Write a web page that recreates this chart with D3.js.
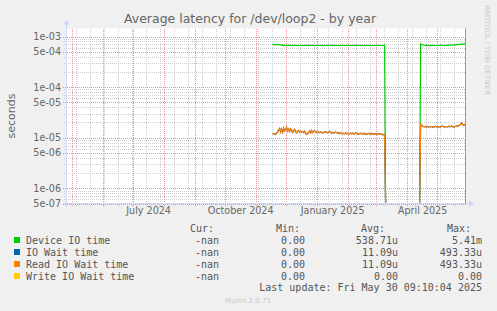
<!DOCTYPE html>
<html>
<head>
<meta charset="utf-8">
<script src="https://cdn.jsdelivr.net/npm/d3@7"></script>
<style>
  body { margin: 0; background: #f0f0f0; }
  svg { display: block; }
</style>
</head>
<body>
<div id="chart"></div>
<script>
// ---- data ----
const title = "Average latency for /dev/loop2 - by year";
const yLabel = "seconds";
const yTicks = [1e-3, 5e-4, 1e-4, 5e-5, 1e-5, 5e-6, 1e-6, 5e-7];
const xLabelDates = ["2024-07-16", "2024-10-16", "2025-01-16", "2025-04-16"];
const xLabelTexts = ["July 2024", "October 2024", "January 2025", "April 2025"];
const endTime = "2025-05-30T09:10:04Z";
const firstDay = "2024-11-18";   // one value per day from here, in microseconds

const deviceUs = [
  690,690,690,690,690,690,690,690,690,
  665,672,660,670,664,668,660,672,666,670,
  662,668,672,664,670,666,660,668,672,664,
  670,666,662,670,668,664,672,660,668,670,
  664,668,672,666,662,670,668,664,670,666,
  660,668,672,664,670,666,662,670,668,664,
  672,660,668,670,664,668,672,666,662,670,
  668,664,670,666,660,668,672,664,670,666,
  662,670,668,664,672,660,668,670,664,668,
  672,666,662,670,668,664,670,666,660,668,
  672,664,670,666,662,670,668,664,672,666,
  668,664,670,672,
  0,0,0,0,0,0,0,0,0,0,0,0,0,0,0,0,0,0,0,0,0,0,0,0,0,0,0,0,0,0,0,0,0,0,0,
  712,700,690,680,672,668,676,670,665,662,
  670,666,674,668,662,670,672,665,660,668,
  675,670,665,672,668,664,670,675,668,672,
  676,670,680,684,690,686,694,690,698,696,
  704,700,708,714,720,735
];

const readUs = [
  12.2,11.8,12.0,11.5,12.4,13.0,
  14.5,15.2,13.0,14.8,12.8,15.5,13.6,14.2,16.0,13.5,
  14.8,13.2,15.0,14.0,12.6,13.8,14.6,13.0,12.4,13.6,
  13.9,12.8,13.5,12.9,13.2,12.6,13.4,12.2,11.6,12.1,
  12.8,13.6,12.4,13.9,12.7,13.2,13.8,13.0,12.6,13.3,
  12.9,12.5,13.1,12.7,12.4,12.8,13.0,12.6,12.9,12.5,
  12.9,13.4,12.7,12.4,12.8,12.3,12.5,12.9,12.6,12.2,
  12.4,12.0,12.6,12.2,11.8,12.3,12.0,12.5,11.9,12.2,
  11.7,12.1,12.4,11.9,12.3,11.8,12.0,12.5,11.9,12.2,
  11.6,12.0,12.3,11.8,12.1,11.7,12.2,11.9,11.6,12.0,
  12.3,11.7,11.9,12.2,11.6,12.0,11.8,12.1,11.5,11.9,
  11.7,12.0,11.6,11.8,11.4,11.6,11.2,
  0,0,0,0,0,0,0,0,0,0,0,0,0,0,0,0,0,0,0,0,0,0,0,0,0,0,0,0,0,0,0,0,0,0,0,
  18.5,17.6,16.8,16.5,16.6,16.4,16.5,16.7,16.4,16.3,
  16.6,16.5,16.2,16.6,16.4,16.8,16.3,16.5,16.6,16.2,
  16.4,16.7,16.9,16.4,16.2,16.6,16.5,16.3,16.8,16.4,
  16.6,17.0,16.5,16.2,16.6,16.8,17.2,16.6,17.3,17.8,
  18.4,19.6,18.2,17.5,18.0,17.2
];

// IO wait time has the same min/avg/max as read IO wait: the same values
const ioWaitUs = readUs;

const writeUs = [
  0,0,0,0,0,0,0,0,0,0,0,0,0,0,0,0,0,0,0,0,0,0,0,0,0,0,0,0,0,0,0,0,0,0,0,0,0,0,0,0,
  0,0,0,0,0,0,0,0,0,0,0,0,0,0,0,0,0,0,0,0,0,0,0,0,0,0,0,0,0,0,0,0,0,0,0,0,0,0,0,0,
  0,0,0,0,0,0,0,0,0,0,0,0,0,0,0,0,0,0,0,0,0,0,0,0,0,0,0,0,0,0,0,0,0,0,0,0,0,0,0,0,
  0,0,0,0,0,0,0,0,0,0,0,0,0,0,0,0,0,0,0,0,0,0,0,0,0,0,0,0,0,0,0,0,0,0,0,0,0,0,0,0,
  0,0,0,0,0,0,0,0,0,0,0,0,0,0,0,0,0,0,0,0,0,0,0,0,0,0,0,0,0,0
];

const seriesNames = ["Device IO time", "IO Wait time", "Read IO Wait time", "Write IO Wait time"];
const seriesColors = ["#00cc00", "#0066b3", "#ff8000", "#ffcc00"];
const curVals = ["-nan", "-nan", "-nan", "-nan"];
const minVals = ["0.00", "0.00", "0.00", "0.00"];
const avgVals = ["538.71u", "11.09u", "11.09u", "0.00"];
const maxVals = ["5.41m", "493.33u", "493.33u", "0.00"];
const lastUpdate = "Last update: Fri May 30 09:10:04 2025";
const footer = "Munin 2.0.75";
const sideText = "RRDTOOL / TOBI OETIKER";

// ---- layout ----
const W = 497, H = 311;
const plot = { left: 66, right: 466, top: 28.5, bottom: 203.5 };
const sans = "'DejaVu Sans', sans-serif";
const mono = "'DejaVu Sans Mono', monospace";

const svg = d3.select("#chart").append("svg")
  .attr("width", W).attr("height", H);

svg.append("rect").attr("width", W).attr("height", H).attr("fill", "#f0f0f0");
svg.append("rect")
  .attr("x", plot.left).attr("y", plot.top)
  .attr("width", plot.right - plot.left).attr("height", plot.bottom - plot.top)
  .attr("fill", "#ffffff");

const end = new Date(endTime);
const start = new Date(end.getTime() - 400 * 86400000);

const x = d3.scaleUtc().domain([start, end]).range([plot.left, plot.right]);
const y = d3.scaleLog().domain([5e-7, 1.44e-3]).range([plot.bottom, plot.top]);

// ---- grid ----
const grid = svg.append("g");
const minorCol = "#cccccc";
const majorCol = "#ee9090";

function vline(d, col) {
  const px = Math.round(x(d)) + 0.5;
  grid.append("line").attr("x1", px).attr("x2", px)
    .attr("y1", 29).attr("y2", 206)
    .attr("stroke", col).attr("stroke-width", 1).attr("stroke-dasharray", "1,1");
}
function hline(v, col, ext) {
  const py = Math.round(y(v)) + 0.5;
  grid.append("line").attr("x1", plot.left - ext).attr("x2", plot.right)
    .attr("y1", py).attr("y2", py)
    .attr("stroke", col).attr("stroke-width", 1).attr("stroke-dasharray", "1,1");
}

// minor: every second week (from a Sunday) and 2..9 inside each decade
d3.utcSunday.range(d3.utcSunday.floor(start), end, 2)
  .filter(d => d >= start)
  .forEach(d => vline(d, minorCol));
const [yMin, yMax] = y.domain();
for (let e = -7; e <= -3; e++) {
  [2, 3, 4, 6, 7, 8, 9].forEach(m => {
    const v = m * Math.pow(10, e);
    if (v >= yMin && v <= yMax) hline(v, minorCol, 2);
  });
}
// major: each month, and the labelled 1 / 5 values
d3.utcMonth.range(start, end).forEach(d => vline(d, majorCol));
yTicks.forEach(v => hline(v, majorCol, 3));

// ---- axes ----
const fmtExp = v => {
  const [m, e] = v.toExponential(0).split("e");
  const sign = e[0] === "-" ? "-" : "+";
  const digits = e.replace(/[+-]/, "").padStart(2, "0");
  return m + "e" + sign + digits;
};

const yAxis = svg.append("g")
  .attr("transform", `translate(${plot.left},0)`)
  .call(d3.axisLeft(y).tickValues(yTicks).tickFormat(fmtExp).tickSize(0).tickPadding(5));
yAxis.select(".domain").remove();
yAxis.selectAll("text")
  .attr("font-family", sans).attr("font-size", 9.6).attr("fill", "#666");

const xAxis = svg.append("g")
  .attr("transform", `translate(0,${plot.bottom})`)
  .call(d3.axisBottom(x)
    .tickValues(xLabelDates.map(s => new Date(s + "T12:00:00Z")))
    .tickFormat((d, i) => xLabelTexts[i])
    .tickSize(0).tickPadding(4));
xAxis.select(".domain").remove();
xAxis.selectAll("text")
  .attr("font-family", sans).attr("font-size", 9.6).attr("fill", "#666");

// ---- series ----
const day0 = new Date(firstDay + "T00:00:00Z").getTime();
const toPoints = arr => arr.map((v, i) => ({ t: new Date(day0 + i * 86400000), v: v * 1e-6 }));
const line = d3.line()
  .x(d => x(d.t))
  .y(d => d.v > 0 ? y(Math.max(d.v, yMin)) : plot.bottom);

svg.append("clipPath").attr("id", "plotclip")
  .append("rect").attr("x", plot.left).attr("y", plot.top - 1)
  .attr("width", plot.right - plot.left + 1).attr("height", plot.bottom - plot.top + 1);

const lines = svg.append("g").attr("clip-path", "url(#plotclip)");
[deviceUs, ioWaitUs, readUs, writeUs].forEach((arr, i) => {
  lines.append("path")
    .datum(toPoints(arr))
    .attr("fill", "none")
    .attr("stroke", seriesColors[i])
    .attr("stroke-width", 1.2)
    .attr("d", line);
});

// ---- axis lines and arrows ----
const axisCol = "#cfd6f8";
svg.append("line").attr("x1", plot.left + 0.5).attr("x2", plot.left + 0.5)
  .attr("y1", plot.bottom + 3).attr("y2", plot.top - 5)
  .attr("stroke", axisCol);
svg.append("line").attr("x1", plot.left - 3).attr("x2", plot.right + 4)
  .attr("y1", plot.bottom).attr("y2", plot.bottom)
  .attr("stroke", axisCol);
svg.append("path")
  .attr("d", `M${plot.left - 3},${plot.top - 4} L${plot.left + 4},${plot.top - 4} L${plot.left + 0.5},${plot.top - 9} Z`)
  .attr("fill", axisCol);
svg.append("path")
  .attr("d", `M${plot.right + 3},${plot.bottom - 3.5} L${plot.right + 3},${plot.bottom + 3.5} L${plot.right + 8},${plot.bottom} Z`)
  .attr("fill", axisCol);
svg.append("line").attr("x1", plot.right - 0.5).attr("x2", plot.right - 0.5)
  .attr("y1", plot.top).attr("y2", plot.bottom)
  .attr("stroke", "#999");

// ---- texts ----
svg.append("text").attr("x", 250).attr("y", 23)
  .attr("text-anchor", "middle")
  .attr("font-family", sans).attr("font-size", 12.5).attr("fill", "#666")
  .text(title);

svg.append("text")
  .attr("transform", `translate(15,${(plot.top + plot.bottom) / 2}) rotate(-90)`)
  .attr("text-anchor", "middle")
  .attr("font-family", sans).attr("font-size", 11).attr("fill", "#666")
  .text(yLabel);

svg.append("text")
  .attr("transform", "translate(485,5) rotate(90)")
  .attr("font-family", sans).attr("font-size", 7).attr("fill", "#c8c8c8")
  .text(sideText);

// legend
const leg = svg.append("g").attr("font-family", mono).attr("font-size", 10).attr("fill", "#555");
const headY = 232;
[["Cur:", 190], ["Min:", 276], ["Avg:", 361], ["Max:", 447]].forEach(([t, px]) => {
  leg.append("text").attr("x", px).attr("y", headY).text(t);
});
seriesNames.forEach((name, i) => {
  const ry = 244 + i * 12;
  leg.append("rect").attr("x", 14).attr("y", ry - 7).attr("width", 6).attr("height", 6)
    .attr("fill", seriesColors[i]);
  leg.append("text").attr("x", 26).attr("y", ry).text(name);
  leg.append("text").attr("x", 219).attr("y", ry).attr("text-anchor", "end").text(curVals[i]);
  leg.append("text").attr("x", 305).attr("y", ry).attr("text-anchor", "end").text(minVals[i]);
  leg.append("text").attr("x", 398).attr("y", ry).attr("text-anchor", "end").text(avgVals[i]);
  leg.append("text").attr("x", 482).attr("y", ry).attr("text-anchor", "end").text(maxVals[i]);
});
leg.append("text").attr("x", 482).attr("y", 291).attr("text-anchor", "end").text(lastUpdate);

svg.append("text").attr("x", 248).attr("y", 303)
  .attr("text-anchor", "middle")
  .attr("font-family", sans).attr("font-size", 7).attr("fill", "#c8c8c8")
  .text(footer);
</script>
</body>
</html>
